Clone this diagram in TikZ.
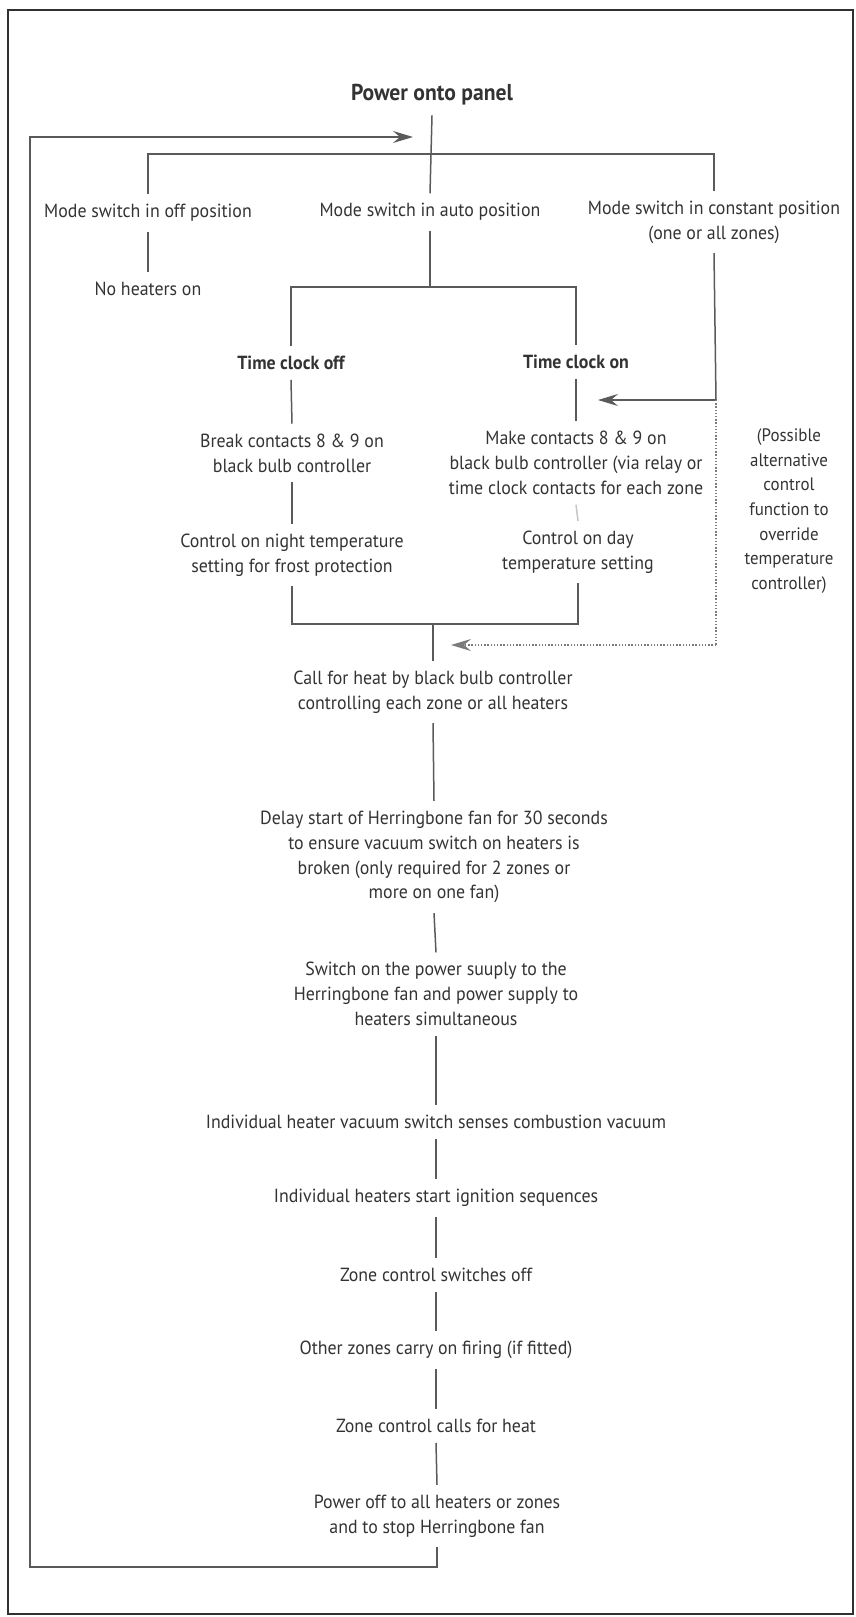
\documentclass[tikz,border=0pt]{standalone}
\usepackage{fontspec}
\setmainfont[FakeStretch=0.94]{PT Sans}
\usetikzlibrary{arrows.meta}
\definecolor{ink}{HTML}{333333}
\definecolor{wirec}{HTML}{5A5A5A}
\definecolor{framec}{HTML}{303030}
\begin{document}
\begin{tikzpicture}[x=0.5pt,y=-0.5pt,
  lbl/.style={font=\fontsize{9.5}{12.4}\selectfont, text=ink, align=center, inner xsep=2pt, inner ysep=5pt, outer sep=0pt},
  hdr/.style={lbl, font=\fontsize{9.5}{12.4}\selectfont\bfseries},
  wire/.style={draw=wirec, line width=0.75pt},
  arr/.style={wire, -{Stealth[length=10pt,width=6pt,inset=3.5pt]}},
  dots/.style={wire, draw=wirec!80, dash pattern=on 0.7pt off 0.9pt}]
\useasboundingbox (0,0) rectangle (856,1617);
\draw[draw=framec, line width=1.3pt] (8,10) rectangle (853,1614);

% nodes
\node[hdr, font=\fontsize{11.5}{13}\selectfont\bfseries] (power) at (432,95) {Power onto panel};
\node[lbl] (off) at (148,213) {Mode switch in off position};
\node[lbl] (auto) at (430,212) {Mode switch in auto position};
\node[lbl] (const) at (714,222) {Mode switch in constant position\\(one or all zones)};
\node[lbl] (noheat) at (148,289) {No heaters on};
\node[hdr] (tcoff) at (291,363) {Time clock off};
\node[hdr] (tcon) at (576,362) {Time clock on};
\node[lbl] (break) at (292,453) {Break contacts 8 \& 9 on\\black bulb controller};
\node[lbl] (make) at (576,463) {Make contacts 8 \& 9 on\\black bulb controller (via relay or\\time clock contacts for each zone};
\node[lbl] (night) at (292,555) {Control on night temperature\\setting for frost protection};
\node[lbl] (day) at (578,552) {Control on day\\temperature setting};
\node[lbl, font=\fontsize{9}{12.3}\selectfont] (poss) at (789,511) {(Possible\\alternative\\control\\function to\\override\\temperature\\controller)};
\node[lbl] (call) at (433,692) {Call for heat by black bulb controller\\controlling each zone or all heaters};
\node[lbl] (delay) at (434,857) {Delay start of Herringbone fan for 30 seconds\\to ensure vacuum switch on heaters is\\broken (only required for 2 zones or\\more on one fan)};
\node[lbl] (swon) at (436,994) {Switch on the power suuply to the\\Herringbone fan and power supply to\\heaters simultaneous};
\node[lbl] (indiv) at (436,1122) {Individual heater vacuum switch senses combustion vacuum};
\node[lbl] (ign) at (436,1198) {Individual heaters start ignition sequences};
\node[lbl] (zoff) at (436,1275) {Zone control switches off};
\node[lbl] (other) at (436,1350) {Other zones carry on firing (if fitted)};
\node[lbl] (zcall) at (436,1426) {Zone control calls for heat};
\node[lbl] (poff) at (437,1516) {Power off to all heaters or zones\\and to stop Herringbone fan};

% junction coordinates
\coordinate (j1) at (430,154);
\coordinate (j2) at (430,287);
\coordinate (j3) at (433,624);
\coordinate (c1) at (716,400);
\coordinate (c2) at (716,645);
\coordinate (a1) at (598,400);
\coordinate (a2) at (451,645);
\coordinate (fb1) at (30,1567);
\coordinate (fb2) at (413,137);

% connectors
\draw[wire] (power.south) -- (auto.north);
\draw[wire] (off.north) |- (j1) -| (const.north);
\draw[wire] (off.south) -- (noheat.north);
\draw[wire] (auto.south) -- (j2);
\draw[wire] (tcoff.north) |- (j2) -| (tcon.north);
\draw[wire] (tcoff.south) -- (break.north);
\draw[wire] (tcon.south) -- (make.north);
\draw[wire] (break.south) -- (night.north);
\draw[wire, draw=wirec!35] (make.south) -- (day.north);
\draw[wire] (night.south) |- (j3) -| (day.south);
\draw[wire] (j3) -- (call.north);
\draw[wire] (const.south) -- (c1);
\draw[arr] (c1) -- (a1);
\draw[dots] (c1) -- (c2);
\draw[dots, -{Stealth[length=10pt,width=6pt,inset=3.5pt]}] (c2) -- (a2);
\draw[wire] (call.south) -- (delay.north);
\draw[wire] (delay.south) -- (swon.north);
\draw[wire] (swon.south) -- (indiv.north);
\draw[wire] (indiv.south) -- (ign.north);
\draw[wire] (ign.south) -- (zoff.north);
\draw[wire] (zoff.south) -- (other.north);
\draw[wire] (other.south) -- (zcall.north);
\draw[wire] (zcall.south) -- (poff.north);
\draw[arr] (poff.south) |- (fb1) |- (fb2);
\end{tikzpicture}
\end{document}
